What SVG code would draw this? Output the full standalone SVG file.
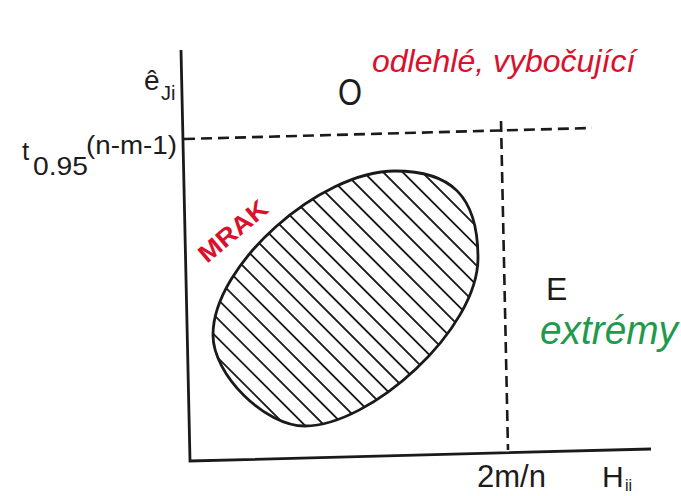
<svg xmlns="http://www.w3.org/2000/svg" width="681" height="496" viewBox="0 0 681 496">
  <defs>
    <style>
      .lbl { font-family: "Liberation Sans", Arial, sans-serif; fill: #1c1c1c; }
      .axis { fill: none; stroke: #1a1a1a; stroke-width: 2.8; stroke-linejoin: miter; }
      .dash { fill: none; stroke: #1a1a1a; stroke-width: 2.6; stroke-dasharray: 11 6; }
      .hatch { fill: none; stroke: #1a1a1a; stroke-width: 1.9; }
      .outline { fill: none; stroke: #1a1a1a; stroke-width: 2.8; }
      .red { font-family: "Liberation Sans", Arial, sans-serif; fill: #d9112c; }
      .green { font-family: "Liberation Sans", Arial, sans-serif; fill: #1f9a4c; font-style: italic; }
    </style>
    <clipPath id="cloudClip">
      <path d="M395,171 C450,171 478,195 478,258 C478,330 370,426 305,426 C265,426 213,375 213,335 C213,265 320,171 395,171 Z"/>
    </clipPath>
  </defs>
  <rect x="0" y="0" width="681" height="496" fill="#ffffff"/>

  <g id="axes">
    <path class="axis" d="M181,50 L190,461 L651,449"/>
  </g>

  <g id="connectors">
    <path class="dash" d="M184,139 L592,128"/>
    <path class="dash" d="M501,121 L508,450"/>
  </g>

  <g id="cloud">
    <g clip-path="url(#cloudClip)">
      <path class="hatch" d="M200,340 L520,660 M200,320.5 L520,640.5 M200,301 L520,621 M200,281.5 L520,601.5 M200,262 L520,582 M200,242.5 L520,562.5 M200,223 L520,543 M200,203.5 L520,523.5 M200,184 L520,504 M200,164.5 L520,484.5 M200,145 L520,465 M200,125.5 L520,445.5 M200,106 L520,426 M200,86.5 L520,406.5 M200,67 L520,387 M200,47.5 L520,367.5 M200,28 L520,348 M200,8.5 L520,328.5 M200,-11 L520,309 M200,-30.5 L520,289.5 M200,-50 L520,270"/>
    </g>
    <path class="outline" d="M395,171 C450,171 478,195 478,258 C478,330 370,426 305,426 C265,426 213,375 213,335 C213,265 320,171 395,171 Z"/>
    <text class="red" font-weight="bold" font-size="25" textLength="82" lengthAdjust="spacingAndGlyphs" transform="translate(207,264) rotate(-40)">MRAK</text>
  </g>

  <g id="y-label">
    <text class="lbl" x="144" y="90" font-size="28">ê</text>
    <text class="lbl" x="161" y="100" font-size="20">Ji</text>
  </g>

  <g id="threshold-label">
    <text class="lbl" x="22" y="160" font-size="26">t</text>
    <text class="lbl" x="33" y="175" font-size="25" textLength="55" lengthAdjust="spacingAndGlyphs">0.95</text>
    <text class="lbl" x="86" y="154" font-size="25" textLength="91" lengthAdjust="spacingAndGlyphs">(n-m-1)</text>
  </g>

  <g id="region-O">
    <text class="lbl" x="338" y="105" font-size="37" textLength="24" lengthAdjust="spacingAndGlyphs">O</text>
    <text class="red" x="372" y="72" font-size="32" font-style="italic">odlehlé, vybočující</text>
  </g>

  <g id="region-E">
    <text class="lbl" x="546" y="300" font-size="32">E</text>
    <text class="green" x="540" y="344" font-size="40" textLength="138" lengthAdjust="spacingAndGlyphs">extrémy</text>
  </g>

  <g id="x-labels">
    <text class="lbl" x="477" y="487" font-size="31" textLength="69" lengthAdjust="spacingAndGlyphs">2m/n</text>
    <text class="lbl" x="602" y="487" font-size="30">H</text>
    <text class="lbl" x="625" y="491" font-size="16">ii</text>
  </g>
</svg>
